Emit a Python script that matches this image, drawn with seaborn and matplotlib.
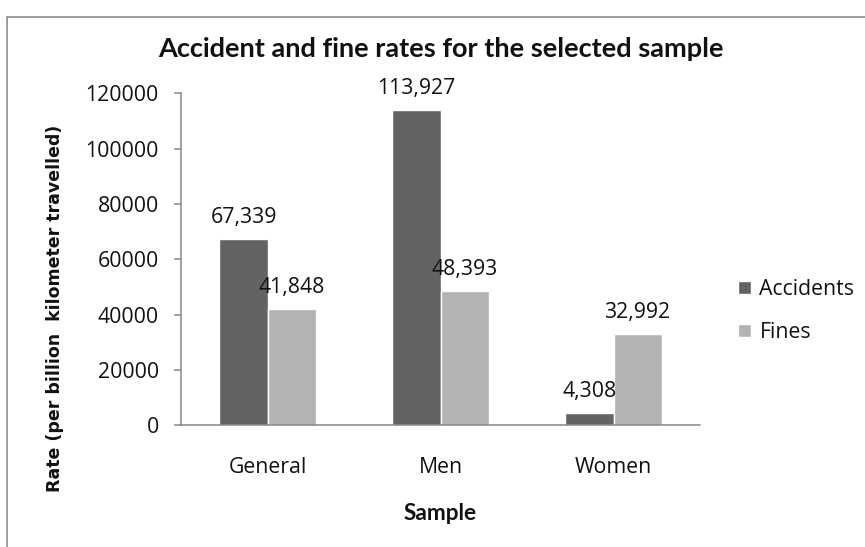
import matplotlib
matplotlib.use("Agg")
import matplotlib.pyplot as plt
import seaborn as sns
import pandas as pd
from matplotlib.patches import Rectangle

# Data
samples = ["General", "Men", "Women"]
accidents = [67339, 113927, 4308]
fines = [41848, 48393, 32992]
series_names = ["Accidents", "Fines"]
yticks = [0, 20000, 40000, 60000, 80000, 100000, 120000]

df = pd.DataFrame({
    "Sample": samples * 2,
    "Series": [series_names[0]] * 3 + [series_names[1]] * 3,
    "Rate": accidents + fines,
})

sns.set_theme(style="white")
plt.rcParams["font.family"] = ["Open Sans", "DejaVu Sans"]

TXT = "#111111"
AXIS = "#868686"
FS = 15.3

fig = plt.figure(figsize=(8.65, 5.47), dpi=100)
ax = fig.add_axes([0.20925, 0.22303, 0.6000, 0.60604])

palette = {"Accidents": "#636363", "Fines": "#b3b3b3"}
sns.barplot(data=df, x="Sample", y="Rate", hue="Series", palette=palette,
            width=0.555, gap=0, saturation=1, ax=ax, legend=True)

for container in ax.containers:
    ax.bar_label(container, labels=[f"{v:,.0f}" for v in container.datavalues],
                 padding=8, fontsize=FS, color=TXT)

ax.set_ylim(0, 120000)
ax.set_yticks(yticks)
ax.set_yticklabels([str(t) for t in yticks], fontsize=FS, color=TXT)
ax.tick_params(axis="y", which="both", left=True, length=5, width=1.1,
               color=AXIS, pad=11)
ax.tick_params(axis="x", bottom=False, length=0, labelsize=FS, pad=23,
               labelcolor=TXT)
ax.set_xlim(-0.5, 2.5)

for side in ["top", "right"]:
    ax.spines[side].set_visible(False)
for side in ["left", "bottom"]:
    ax.spines[side].set_color(AXIS)
    ax.spines[side].set_linewidth(1.1)

ax.set_xlabel("Sample", fontsize=16.3, fontweight="bold", labelpad=18,
              family=["Lato", "DejaVu Sans"], color=TXT)
ax.set_ylabel("Rate (per billion  kilometer travelled)", fontsize=12.5,
              fontweight="bold", family=["DejaVu Sans"], color=TXT)
ax.yaxis.set_label_coords((64 - 181) / 519, (425 - 308) / 331.5)

ax.set_title("Accident and fine rates for the selected sample",
             fontsize=19.5, fontweight="bold", pad=26,
             family=["Lato", "DejaVu Sans"], color=TXT)

leg = ax.legend(loc="center left", bbox_to_anchor=((738 - 181) / 519, (425 - 311) / 331.5),
                frameon=False, fontsize=FS, handlelength=0.61, handleheight=0.61,
                handletextpad=0.4, labelspacing=1.03, borderpad=0, borderaxespad=0)
for t in leg.get_texts():
    t.set_color(TXT)

# Chart area frame
fig.patches.append(Rectangle((7.5 / 865, -0.05), 1.2, 1 - 17 / 547 + 0.05,
                             transform=fig.transFigure, fill=False,
                             edgecolor="#8c8c8c", linewidth=1.2))

fig.savefig("out.png", dpi=100)
